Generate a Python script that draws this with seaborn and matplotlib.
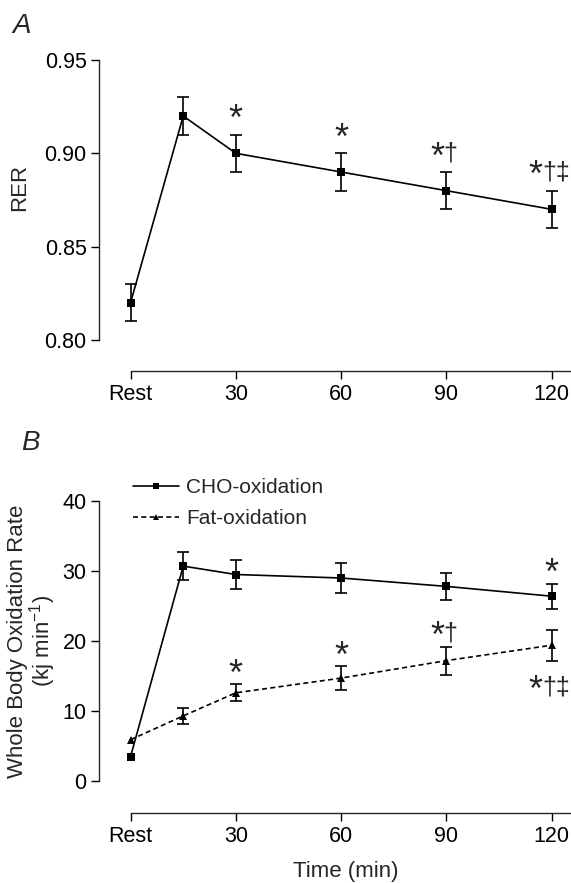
import matplotlib
matplotlib.use("Agg")
import matplotlib.pyplot as plt
import seaborn as sns
import numpy as np
import pandas as pd

# ---- data ----
time_min = [0, 15, 30, 60, 90, 120]
tick_pos = [0, 30, 60, 90, 120]
tick_labels = ["Rest", "30", "60", "90", "120"]

rer_mean = [0.82, 0.92, 0.90, 0.89, 0.88, 0.87]
rer_sem = [0.01, 0.01, 0.01, 0.01, 0.01, 0.01]

cho_mean = [3.5, 30.7, 29.5, 29.0, 27.8, 26.4]
cho_sem = [0.0, 2.0, 2.1, 2.1, 1.9, 1.8]
fat_mean = [5.9, 9.3, 12.6, 14.7, 17.2, 19.4]
fat_sem = [0.0, 1.1, 1.2, 1.7, 2.0, 2.2]

rer_marks = {30: "*", 60: "*", 90: "*\u2020", 120: "*\u2020\u2021"}
fat_marks = {30: "*", 60: "*", 90: "*\u2020"}
fat_below = {120: "*\u2020\u2021"}
cho_marks = {120: "*"}

sns.set_style("ticks")
plt.rcParams["font.family"] = ["Liberation Sans", "DejaVu Sans"]
plt.rcParams["mathtext.fontset"] = "custom"
plt.rcParams["mathtext.rm"] = "Liberation Sans"

W, H = 571, 883
fig = plt.figure(figsize=(W / 100, H / 100), dpi=100)
left = 99 / W
axA = fig.add_axes([left, 1 - 371 / H, 1 - left, (371 - 60) / H])
axB = fig.add_axes([left, 1 - 813 / H, 1 - left, (813 - 501) / H])

fs_tick = 15.5
fs_lab = 16
lw = 1.2
XMIN, XMAX = -9.0, 125.5


def style_axis(ax, ylo, yhi, yticks):
    for s in ["top", "right"]:
        ax.spines[s].set_visible(False)
    ax.spines["left"].set_bounds(ylo, yhi)
    ax.spines["bottom"].set_bounds(0, XMAX)
    ax.spines["left"].set_linewidth(1.0)
    ax.spines["bottom"].set_linewidth(1.0)
    ax.set_xlim(XMIN, XMAX)
    ax.set_xticks(tick_pos)
    ax.set_xticklabels(tick_labels)
    ax.set_yticks(yticks)
    ax.tick_params(axis="both", labelsize=fs_tick, length=6, width=1.0,
                   direction="out", colors="black", pad=3)


def errbars(ax, m, e):
    t = [x for x, s in zip(time_min, e) if s > 0]
    mm = [x for x, s in zip(m, e) if s > 0]
    ee = [s for s in e if s > 0]
    ax.errorbar(t, mm, yerr=ee, fmt="none", ecolor="black",
                elinewidth=1.2, capsize=4, capthick=1.2)


AST_FS = 26
AST_MID = 16.5   # px from baseline to asterisk centre
DAG_FS = 18
DAG_W = 13.0


def mark(ax, x, y, s, dist, above=True):
    n = len(s) - 1
    if n == 0:
        ast_cx = 0.0
    else:
        wtot = 15 + n * DAG_W
        l0 = -3 - wtot / 2
        ast_cx = l0 + 7.5
        dag_left = l0 + 14
    cy = dist if above else -dist
    ax.annotate("*", (x, y), xytext=(ast_cx, cy - AST_MID),
                textcoords="offset pixels", ha="center", va="baseline",
                fontsize=AST_FS)
    if n:
        ax.annotate(s[1:], (x, y), xytext=(dag_left, cy - 10),
                    textcoords="offset pixels", ha="left", va="baseline",
                    fontsize=DAG_FS)


# ---- panel A ----
dfA = pd.DataFrame({"time": time_min, "RER": rer_mean})
sns.lineplot(data=dfA, x="time", y="RER", ax=axA, color="black", lw=lw,
             marker="s", markersize=5.5, markeredgewidth=0)
errbars(axA, rer_mean, rer_sem)
axA.set_ylim(0.80 - 31 / 1866, 0.95)
style_axis(axA, 0.80, 0.95, [0.80, 0.85, 0.90, 0.95])
axA.set_yticklabels(["0.80", "0.85", "0.90", "0.95"])
axA.set_xlabel("")
axA.set_ylabel("RER", fontsize=fs_lab)
axA.yaxis.set_label_coords((30 - 99) / (W - 99), (371 - 187) / (371 - 60))
for t, s in rer_marks.items():
    i = time_min.index(t)
    mark(axA, t, rer_mean[i] + rer_sem[i], s, 21)

# ---- panel B ----
dfB = pd.DataFrame({"time": time_min * 2,
                    "rate": cho_mean + fat_mean,
                    "series": ["CHO-oxidation"] * 6 + ["Fat-oxidation"] * 6})
sns.lineplot(data=dfB, x="time", y="rate", hue="series", style="series",
             markers={"CHO-oxidation": "s", "Fat-oxidation": "^"},
             dashes={"CHO-oxidation": "", "Fat-oxidation": (3, 2)},
             palette={"CHO-oxidation": "black", "Fat-oxidation": "black"},
             ax=axB, lw=lw, markersize=5.5, markeredgewidth=0)
errbars(axB, cho_mean, cho_sem)
errbars(axB, fat_mean, fat_sem)
axB.set_ylim(-32 / 7.0, 40)
style_axis(axB, 0, 40, [0, 10, 20, 30, 40])
axB.set_xlabel("Time (min)", fontsize=fs_lab)
axB.xaxis.set_label_coords((346 - 99) / (W - 99), (813 - 861) / (813 - 501))
axB.set_ylabel("Whole Body Oxidation Rate\n(kj min$^{-1}$)", fontsize=fs_lab,
               linespacing=0.95)
axB.yaxis.set_label_coords((58 - 99) / (W - 99), (813 - 641) / (813 - 501))
for t, s in cho_marks.items():
    i = time_min.index(t)
    mark(axB, t, cho_mean[i] + cho_sem[i], s, 16)
for t, s in fat_marks.items():
    i = time_min.index(t)
    mark(axB, t, fat_mean[i] + fat_sem[i], s, 16)
for t, s in fat_below.items():
    i = time_min.index(t)
    mark(axB, t, fat_mean[i] - fat_sem[i], s, 24, above=False)

leg = axB.legend(loc="upper left", bbox_to_anchor=(133 / W, 1 - 478 / H),
                 bbox_transform=fig.transFigure, frameon=False,
                 fontsize=15, handlelength=2.2, handletextpad=0.35,
                 labelspacing=0.6, borderaxespad=0, borderpad=0)
for h in leg.legend_handles:
    h.set_markersize(5)

fig.text(12 / W, 1 - 33 / H, "A", fontsize=20, style="italic", va="baseline")
fig.text(21 / W, 1 - 450 / H, "B", fontsize=20, style="italic", va="baseline")

fig.savefig("out.png", dpi=100)
